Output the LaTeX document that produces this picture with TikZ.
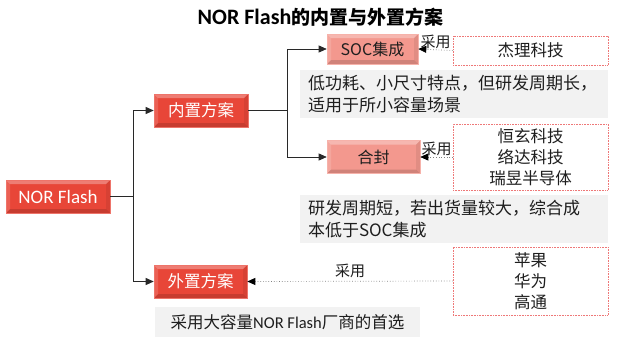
\documentclass[tikz,border=0pt]{standalone}
\usepackage{fontspec}
\setmainfont{Noto Sans CJK SC}
\newfontfamily\lat{Carlito}
\usetikzlibrary{arrows.meta}
\definecolor{boxred}{RGB}{232,70,56}
\definecolor{boxpink}{RGB}{243,152,142}
\definecolor{graybg}{RGB}{242,242,242}
\definecolor{dotred}{RGB}{238,120,120}
\definecolor{txt}{RGB}{30,30,30}
\definecolor{lnk}{RGB}{40,40,40}
\tikzset{
  bevel/.style={path picture={
    \fill[white,opacity=0.30] (path picture bounding box.north west) -- (path picture bounding box.north east)
      -- ([xshift=-4pt,yshift=-4pt]path picture bounding box.north east) -- ([xshift=4pt,yshift=-4pt]path picture bounding box.north west) -- cycle;
    \fill[black,opacity=0.14] (path picture bounding box.south west) -- (path picture bounding box.south east)
      -- ([xshift=-4pt,yshift=4pt]path picture bounding box.south east) -- ([xshift=4pt,yshift=4pt]path picture bounding box.south west) -- cycle;
    \fill[white,opacity=0.14] (path picture bounding box.north west) -- (path picture bounding box.south west)
      -- ([xshift=4pt,yshift=4pt]path picture bounding box.south west) -- ([xshift=4pt,yshift=-4pt]path picture bounding box.north west) -- cycle;
    \fill[black,opacity=0.07] (path picture bounding box.north east) -- (path picture bounding box.south east)
      -- ([xshift=-4pt,yshift=4pt]path picture bounding box.south east) -- ([xshift=-4pt,yshift=-4pt]path picture bounding box.north east) -- cycle;
  }},
  redbox/.style={fill=boxred, draw=boxred!75!white, line width=0.6pt, text=white,
    font=\fontsize{16.5}{18}\selectfont, minimum height=33pt, inner sep=0pt, bevel},
  pinkbox/.style={fill=boxpink, draw=boxpink!75!white, line width=0.6pt, text=txt,
    font=\fontsize{16}{18}\selectfont, minimum height=33pt, inner sep=0pt, bevel},
  graynote/.style={fill=graybg, text=txt, align=left, text width=292pt, inner xsep=8pt,
    inner ysep=0pt, minimum height=48pt, font=\fontsize{17}{22}\selectfont},
  dotbox/.style={draw=dotred, densely dotted, line width=0.6pt, minimum width=155pt,
    inner sep=0pt, align=center, text=txt, font=\fontsize{16.5}{21}\selectfont},
  arr/.style={draw=lnk, line width=0.7pt, -{Triangle[length=8pt,width=7pt]}},
  darr/.style={draw=gray, dotted, line width=0.7pt, -{Triangle[length=8pt,width=7pt,color=black]}},
  lbl/.style={text=txt, font=\fontsize{15}{17}\selectfont, inner sep=1pt},
}
\begin{document}
\begin{tikzpicture}[x=1pt,y=-1pt]
\useasboundingbox[fill=white] (0,0) rectangle (619,349);

\node[text=black, font=\fontsize{19}{22}\selectfont\bfseries] (title) at (320.5,17) {{\fontsize{22}{22}\selectfont\lat NOR Flash}的内置与外置方案};

\node[redbox, minimum width=104pt] (nor) at (58,196.5) {\fontsize{19}{20}\selectfont\lat NOR Flash};
\node[redbox, minimum width=94pt] (nei) at (201,110.5) {内置方案};
\node[redbox, minimum width=93pt] (wai) at (200.5,281.5) {外置方案};
\node[pinkbox, minimum width=91pt, minimum height=30pt] (soc) at (372.5,49) {SOC集成};
\node[pinkbox, minimum width=93pt] (hf) at (373.5,157) {合封};

\node[graynote] (n1) at (454,94) {低功耗、小尺寸特点，但研发周期长，\\适用于所小容量场景};
\node[graynote] (n2) at (454,219) {研发周期短，若出货量较大，综合成\\本低于SOC集成};
\node[fill=graybg, text=txt, minimum width=265pt, minimum height=30pt, inner sep=0pt,
      font=\fontsize{16.5}{20}\selectfont] (n3) at (287.5,322) {采用大容量{\lat NOR Flash}厂商的首选};

\node[dotbox, minimum height=29pt] (d1) at (530.5,50.5) {杰理科技};
\node[dotbox, minimum height=66pt] (d2) at (530.5,157) {恒玄科技\\络达科技\\瑞昱半导体};
\node[dotbox, minimum height=68pt] (d3) at (530.5,281) {苹果\\华为\\高通};

\draw[arr] (nor.east) -- ++(23,0) |- (nei.west);
\draw[arr] (nor.east) -- ++(23,0) |- (wai.west);
\draw[arr] (nei.east) -- ++(39,0) |- (soc.west);
\draw[arr] (nei.east) -- ++(39,0) |- (hf.west);

\draw[darr] (d1.west) -- (soc.east) node[lbl, midway, above] (l1) {采用};
\draw[darr] (d2.west) -- (hf.east) node[lbl, midway, above] (l2) {采用};
\draw[darr] (d3.west) -- (wai.east) node[lbl, midway, above, yshift=2pt] (l3) {采用};
\end{tikzpicture}
\end{document}
